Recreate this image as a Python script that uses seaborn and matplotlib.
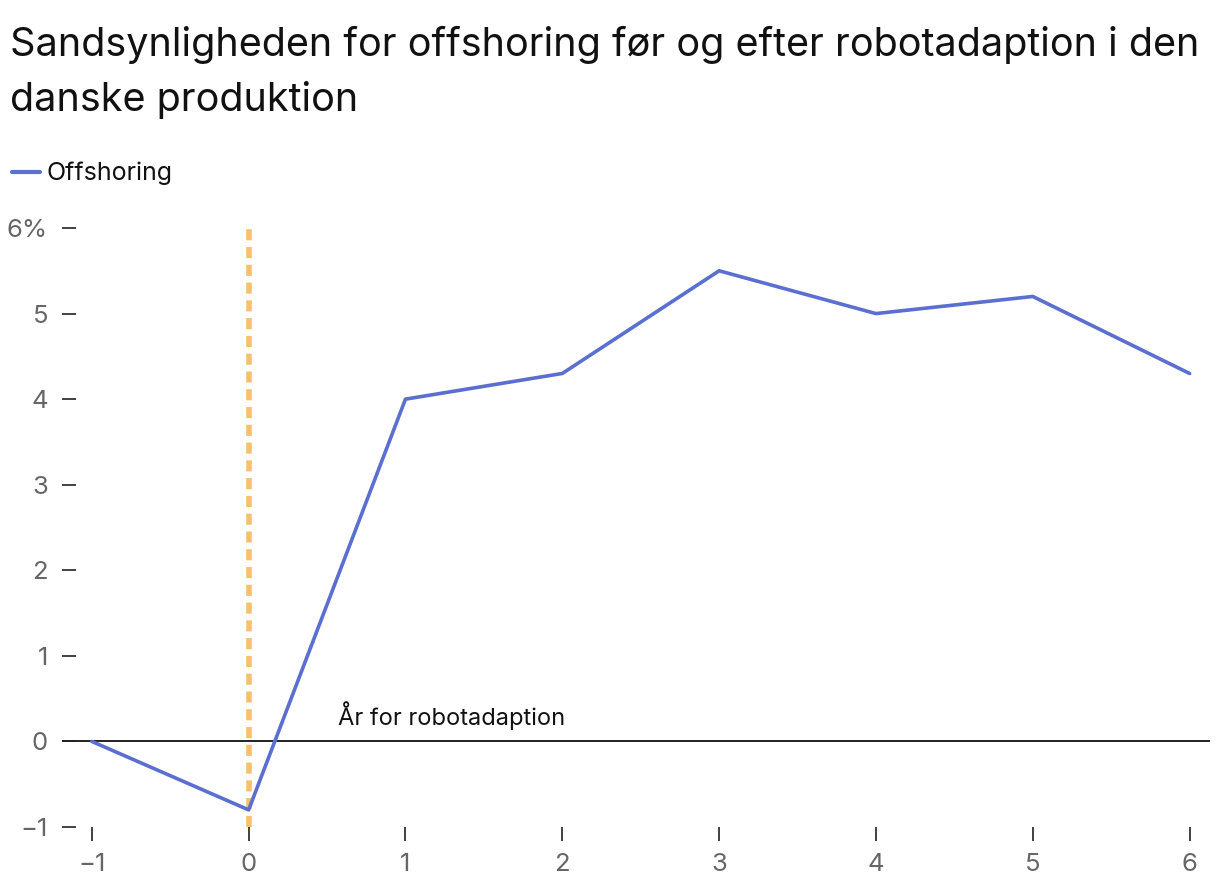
import pandas as pd
import matplotlib.pyplot as plt
import seaborn as sns

# =========================
# Data
# =========================

years = [-1, 0, 1, 2, 3, 4, 5, 6]
offshoring = [0.0, -0.8, 4.0, 4.3, 5.5, 5.0, 5.2, 4.3]
y_ticks = [-1, 0, 1, 2, 3, 4, 5, 6]
y_labels = ["\u22121", "0", "1", "2", "3", "4", "5", "6%"]
x_labels = ["\u22121", "0", "1", "2", "3", "4", "5", "6"]

df = pd.DataFrame({"year": years, "value": offshoring})

# =========================
# Figur
# =========================

sns.set_theme(style="white")
plt.rcParams["font.family"] = ["Inter", "DejaVu Sans"]

fig = plt.figure(figsize=(12.2, 8.94), dpi=100)
ax = fig.add_axes([62 / 1220, 67 / 894, 1148 / 1220, 599 / 894])

blue = "#5a6fd0"
orange = "#f8bf6c"

ax.axhline(0, color="#222222", lw=1.4, zorder=1)
ax.vlines(0, -1, 6, colors=orange, linestyles=(0, (2.0, 1.2)), lw=4, zorder=2)
sns.lineplot(data=df, x="year", y="value", color=blue, lw=2.6, ax=ax, zorder=3,
             label="Offshoring", legend=False)

ax.text(0.57, 0.3, "År for robotadaption", fontsize=17, color="#111111",
        va="center", ha="left")

ax.set_xlim(-1.19, 6.13)
ax.set_ylim(-1, 6)
ax.set_xticks(years)
ax.set_xticklabels(x_labels)
ax.set_yticks(y_ticks)
ax.set_yticklabels(y_labels)
ax.set_xlabel("")
ax.set_ylabel("")
for s in ax.spines.values():
    s.set_visible(False)

ax.tick_params(axis="x", direction="out", length=10, width=1.3, color="#333333",
               labelsize=18.5, labelcolor="#666666", pad=9, bottom=True)
ax.tick_params(axis="y", direction="in", length=10, width=1.3, color="#333333",
               labelsize=18.5, labelcolor="#666666", pad=10, left=True)

# Titel og legende
fig.text(10 / 1220, 1 - 45 / 894, "Sandsynligheden for offshoring før og efter robotadaption i den",
         fontsize=28.5, va="center", ha="left", color="#111111")
fig.text(10 / 1220, 1 - 100 / 894, "danske produktion",
         fontsize=28.5, va="center", ha="left", color="#111111")
fig.lines.append(plt.Line2D([12 / 1220, 40 / 1220], [1 - 172 / 894, 1 - 172 / 894],
                            transform=fig.transFigure, color=blue, lw=3))
fig.text(47 / 1220, 1 - 173 / 894, "Offshoring", fontsize=18, va="center", ha="left",
         color="#111111")

plt.savefig("out.png", dpi=100)
